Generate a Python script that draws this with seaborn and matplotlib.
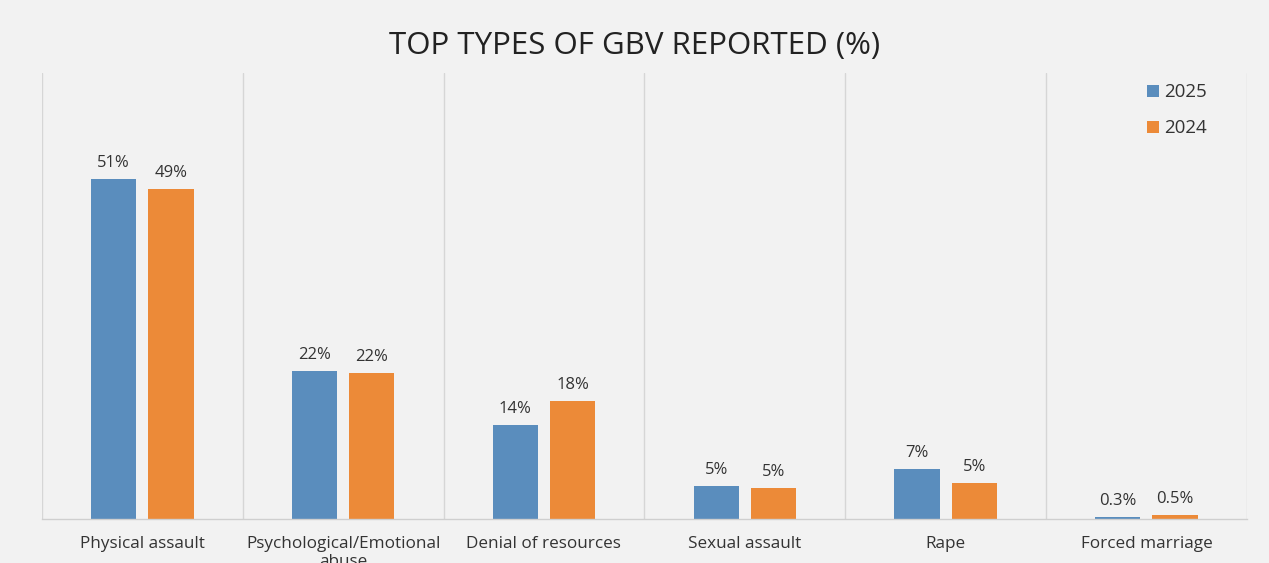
import pandas as pd
import matplotlib.pyplot as plt
import seaborn as sns

# Data
categories = ['Physical assault', 'Psychological/Emotional\nabuse', 'Denial of resources',
              'Sexual assault', 'Rape', 'Forced marriage']
values_2025 = [51.0, 22.2, 14.1, 4.9, 7.5, 0.3]
values_2024 = [49.5, 21.9, 17.7, 4.6, 5.4, 0.6]
labels_2025 = ['51%', '22%', '14%', '5%', '7%', '0.3%']
labels_2024 = ['49%', '22%', '18%', '5%', '5%', '0.5%']
years = ['2025', '2024']

df = pd.DataFrame({
    'category': categories * 2,
    'value': values_2025 + values_2024,
    'label': labels_2025 + labels_2024,
    'year': [years[0]] * len(categories) + [years[1]] * len(categories),
})

bg = '#f2f2f2'
text_color = '#333333'
palette = {'2025': '#5a8dbd', '2024': '#ec8a38'}

sns.set_style('white')
plt.rcParams['font.family'] = ['Open Sans', 'DejaVu Sans']

fig = plt.figure(figsize=(12.69, 5.63), dpi=100, facecolor=bg)
ax = fig.add_axes([0.0330, 0.078, 0.9495, 0.792])
ax.set_facecolor(bg)

sns.barplot(data=df, x='category', y='value', hue='year', hue_order=years,
            palette=palette, width=0.57, gap=0.21, saturation=1,
            linewidth=0, edgecolor='none', ax=ax)

# value labels above bars
for container, labs in zip(ax.containers, [labels_2025, labels_2024]):
    ax.bar_label(container, labels=labs, padding=6, fontsize=12, color=text_color)

ax.set_xlim(-0.5, len(categories) - 0.5)
ax.set_ylim(0, 66.9)
ax.set_xlabel('')
ax.set_ylabel('')
ax.set_yticks([])
ax.tick_params(axis='x', length=0, pad=12, labelsize=12.3, labelcolor=text_color)

# vertical separators between categories
for xb in [i - 0.5 for i in range(len(categories) + 1)]:
    ax.axvline(xb, color='#d6d6d6', linewidth=1, zorder=0)

for side in ['top', 'left', 'right']:
    ax.spines[side].set_visible(False)
ax.spines['bottom'].set_color('#cfcfcf')
ax.spines['bottom'].set_linewidth(1)

ax.legend(loc='upper right', bbox_to_anchor=(0.981, 1.015), frameon=False,
          fontsize=13.5, handlelength=0.6, handleheight=0.6, handletextpad=0.3,
          labelspacing=0.95, labelcolor=text_color)

fig.text(0.5, 0.918, 'TOP TYPES OF GBV REPORTED (%)', ha='center', va='center',
         fontsize=22.5, color='#222222')

plt.savefig('out.png', dpi=100, facecolor=bg)
plt.close()
